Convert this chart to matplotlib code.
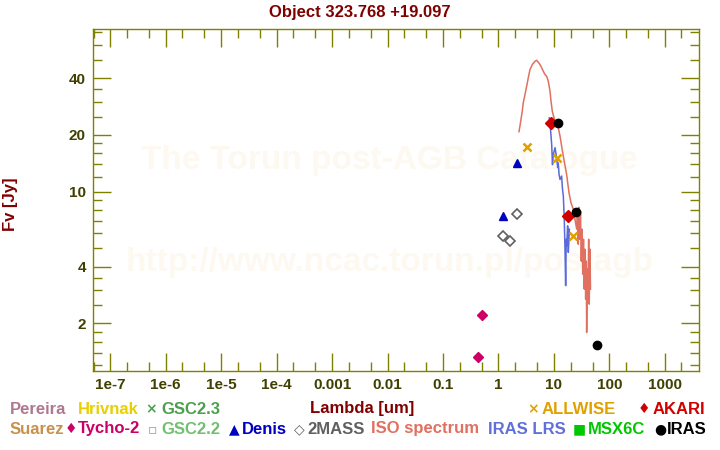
import matplotlib
matplotlib.use("Agg")
import matplotlib.pyplot as plt
from matplotlib.ticker import FixedLocator, NullFormatter

plt.rcParams['font.family'] = ['Liberation Sans', 'DejaVu Sans']
plt.rcParams['font.weight'] = 'bold'

# ISO spectrum (um, Jy)
iso_wl = [2.35, 2.44, 2.55, 2.69, 2.80, 3.01, 3.23, 3.45, 3.71, 4.08, 4.56, 4.89,
          5.38, 5.85, 6.44, 6.91, 7.41, 7.92, 8.51, 8.87, 9.36, 10.05, 11.2, 12.0,
          12.9, 13.8, 14.8, 15.9, 17.0, 17.7, 18.7, 20.3, 22.4, 24.0, 25.8, 26.6,
          27.5, 28.4, 29.2, 30.2, 31.2, 32.1, 33.1, 34.2, 35.3, 36.4, 37.4, 38.4,
          39.0, 40.0, 41.2, 42.4, 43.4, 44.8, 45.7]
iso_fl = [20.8, 22.2, 24.1, 26.7, 29.6, 32.7, 36.2, 40.1, 44.4, 47.2, 49.1, 49.7,
          48.1, 46.2, 43.5, 41.8, 40.9, 38.5, 34.1, 30.2, 26.7, 24.6, 22.7, 21.8,
          19.7, 17.4, 15.4, 13.7, 12.3, 11.2, 9.9, 8.74, 8.06, 7.13, 6.32, 7.58,
          5.26, 8.26, 5.59, 7.87, 4.28, 6.32, 3.65, 5.59, 3.04, 4.95, 2.69, 4.28,
          1.79, 3.88, 2.69, 5.59, 2.53, 4.95, 3.04]

# IRAS LRS
lrs_wl = [8.26, 8.75, 9.12, 9.44, 9.75, 10.5, 11.2, 11.7, 12.0, 12.4, 12.9, 13.8,
          14.3, 14.8, 15.4, 15.9, 16.3, 16.7, 17.0, 17.7, 18.2, 18.7, 19.0]
lrs_fl = [24.6, 20.9, 17.8, 13.9, 15.7, 17.1, 15.1, 13.4, 14.2, 12.3, 11.6, 12.1,
          10.3, 9.48, 7.13, 4.76, 3.17, 5.59, 5.15, 6.58, 4.76, 5.59, 6.32]

# photometry
tycho_wl = [0.434, 0.51]
tycho_fl = [1.32, 2.22]
denis_wl = [1.21, 2.16]
denis_fl = [7.4, 14.1]
tmass_wl = [1.21, 1.65, 2.18]
tmass_fl = [5.80, 5.44, 7.58]
allwise_wl = [3.31, 11.2, 22.4]
allwise_fl = [17.3, 15.1, 5.78]
akari_wl = [8.87, 18.2]
akari_fl = [23.2, 7.4]
iras_wl = [12.0, 25.0, 60.4]
iras_fl = [23.2, 7.84, 1.54]

xticks = [1e-7, 1e-6, 1e-5, 1e-4, 1e-3, 1e-2, 0.1, 1, 10, 100, 1000]
xlabels = ['1e-7', '1e-6', '1e-5', '1e-4', '0.001', '0.01', '0.1', '1', '10', '100', '1000']
yticks = [2, 4, 10, 20, 40]
yminor = [1.2, 1.4, 1.6, 1.8, 2.5, 3, 3.5, 5, 6, 7, 8, 9, 12, 14, 16, 18, 25, 30, 35, 50, 60, 70]

olive = '#808000'
dred = '#800000'

fig = plt.figure(figsize=(7.2, 4.5), dpi=100)
ax = fig.add_axes([92.7 / 720, 1 - 370.7 / 450, (699 - 92.7) / 720, (370.7 - 29.3) / 450])
ax.set_xscale('log')
ax.set_yscale('log')
ax.set_xlim(10 ** -7.317, 10 ** 3.617)
ax.set_ylim(1.122, 72.6)

# faint watermark
ax.text(0.49, 0.617, 'The Torun post-AGB Catalogue', transform=ax.transAxes,
        ha='center', va='center', fontsize=24, color='#fdf9f1', zorder=0)
ax.text(0.49, 0.318, 'http://www.ncac.torun.pl/postagb', transform=ax.transAxes,
        ha='center', va='center', fontsize=24, color='#fdf9f1', zorder=0)

ax.plot(iso_wl, iso_fl, color='#e07060', lw=1.1, zorder=2)
ax.plot(lrs_wl, lrs_fl, color='#5a6ad8', lw=1.1, zorder=3)

ax.plot(tycho_wl, tycho_fl, 'D', color='#cc0066', ms=5.5, zorder=5)
ax.plot(denis_wl, denis_fl, '^', color='#0000c0', ms=6, zorder=5)
ax.plot(tmass_wl, tmass_fl, 'D', mfc='white', mec='#606060', mew=1.2, ms=5, zorder=5)
ax.plot(allwise_wl, allwise_fl, 'x', color='#e0a000', ms=6, mew=1.8, zorder=6)
ax.plot(akari_wl, akari_fl, 'D', color='#d00000', ms=6, zorder=6)
ax.plot(iras_wl, iras_fl, 'o', color='black', ms=6, zorder=6)

ax.xaxis.set_major_locator(FixedLocator(xticks))
ax.set_xticklabels(xlabels)
xminor = [m * t for t in xticks + [1e-8, 1e4] for m in (2, 5)]
ax.xaxis.set_minor_locator(FixedLocator(xminor))
ax.xaxis.set_minor_formatter(NullFormatter())
ax.yaxis.set_major_locator(FixedLocator(yticks))
ax.set_yticklabels([str(v) for v in yticks])
ax.yaxis.set_minor_locator(FixedLocator(yminor))
ax.yaxis.set_minor_formatter(NullFormatter())

ax.tick_params(which='both', direction='in', top=True, right=True, color=olive,
               width=1, labelsize=11, labelcolor='#404000')
ax.tick_params(which='major', length=13, pad=5)
ax.tick_params(which='minor', length=6.5)
for sp in ax.spines.values():
    sp.set_color(olive)
    sp.set_linewidth(1)

fig.text(0.5, 1 - 12 / 450, 'Object 323.768 +19.097', ha='center', va='center',
         fontsize=12, color=dred)
fig.text(10 / 720, 1 - 204 / 450, 'Fv [Jy]', rotation=90, ha='center', va='center',
         fontsize=12, color=dred)
fig.text(362 / 720, 1 - 409 / 450, 'Lambda [um]', ha='center', va='center',
         fontsize=12, color=dred)

# legend rows: (text, x of text start, colour, symbol, x of symbol centre)
row1 = [('Pereira', 10, '#b07890', None, 0),
        ('Hrivnak', 78, '#e8d000', None, 0),
        ('GSC2.3', 161, '#4ca04c', '×', 151),
        ('ALLWISE', 542, '#e0a000', '×', 533),
        ('AKARI', 653, '#d00000', '♦', 644)]
row2 = [('Suarez', 10, '#c8904a', None, 0),
        ('Tycho-2', 78, '#cc0066', '♦', 71),
        ('GSC2.2', 161, '#70c070', '▫', 152),
        ('Denis', 242, '#0000c0', '▲', 234),
        ('2MASS', 307, '#606060', '◇', 299),
        ('ISO spectrum', 371, '#e07060', None, 0),
        ('IRAS LRS', 488, '#6070d8', None, 0),
        ('MSX6C', 588, '#00c800', '■', 579),
        ('IRAS', 667, '#000000', '●', 660)]
for y, row in ((409, row1), (429, row2)):
    for txt, x, col, sym, sx in row:
        fig.text(x / 720, 1 - y / 450, txt, ha='left', va='center', fontsize=12, color=col)
        if sym:
            fig.text(sx / 720, 1 - y / 450, sym, ha='center', va='center', fontsize=10,
                     color=col, family=['DejaVu Sans'])

fig.savefig('out.png', dpi=100)
